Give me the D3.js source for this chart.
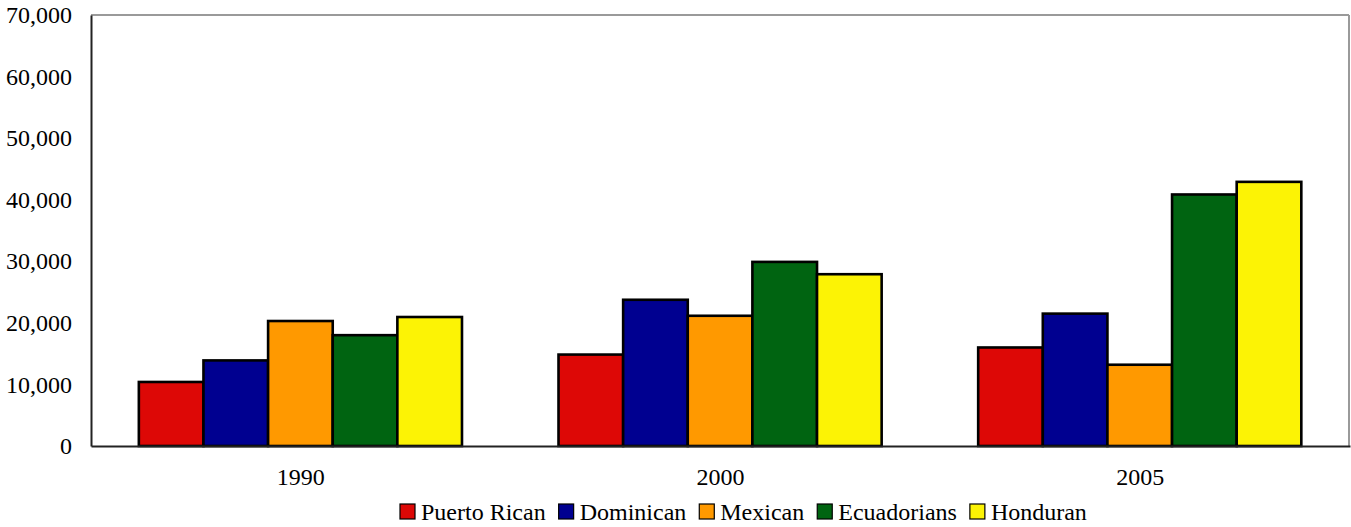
<!DOCTYPE html>
<html>
<head>
<meta charset="utf-8">
<script src="https://cdn.jsdelivr.net/npm/d3@7"></script>
<style>
  html, body { margin: 0; padding: 0; background: #fff; }
  svg { display: block; }
</style>
</head>
<body>
<svg id="chart" width="1351" height="527" style="font-family:'Liberation Serif'"></svg>
<script>
const years = ["1990", "2000", "2005"];
const groups = ["Puerto Rican", "Dominican", "Mexican", "Ecuadorians", "Honduran"];
const puertoRican = [10400, 14850, 16000];
const dominican   = [13900, 23750, 21500];
const mexican     = [20300, 21150, 13200];
const ecuadorians = [18000, 29900, 40850];
const honduran    = [20950, 27900, 42900];
const yTicks = [0, 10000, 20000, 30000, 40000, 50000, 60000, 70000];
const colors = ["#DD0806", "#000090", "#FF9900", "#006411", "#FCF305"];

const seriesValues = [puertoRican, dominican, mexican, ecuadorians, honduran];
const FONT = "'Liberation Serif'";
const FS = "24px";

const svg = d3.select("#chart");
const margin = { left: 91, right: 1, top: 15, bottom: 81 };
const W = 1351, H = 527;
const plotL = margin.left, plotR = W - margin.right, plotT = margin.top, plotB = H - margin.bottom;

const x0 = d3.scaleBand().domain(years).range([plotL, plotR]).padding(0);
const step = x0.bandwidth();
const x1 = d3.scaleBand().domain(groups).range([step * 0.114, step * 0.884]).padding(0);
const y = d3.scaleLinear().domain([0, 70000]).range([plotB, plotT]);

// frame: top and right grey
svg.append("line").attr("x1", plotL).attr("x2", plotR - 1).attr("y1", plotT).attr("y2", plotT)
  .attr("stroke", "#9a9a9a").attr("stroke-width", 2);
svg.append("line").attr("x1", plotR - 1).attr("x2", plotR - 1).attr("y1", plotT).attr("y2", plotB)
  .attr("stroke", "#9a9a9a").attr("stroke-width", 2);

// bars
const g = svg.append("g");
years.forEach((yr, i) => {
  groups.forEach((grp, j) => {
    const v = seriesValues[j][i];
    g.append("rect")
      .attr("x", x0(yr) + x1(grp))
      .attr("y", y(v))
      .attr("width", x1.bandwidth())
      .attr("height", y(0) - y(v))
      .attr("fill", colors[j])
      .attr("stroke", "#000")
      .attr("stroke-width", 2.6);
  });
});

// y axis
const yAxis = d3.axisLeft(y).tickValues(yTicks).tickSize(0).tickPadding(19)
  .tickFormat(d3.format(","));
const ya = svg.append("g").attr("transform", `translate(${plotL},0)`).call(yAxis);
ya.attr("font-family", null).attr("font-size", null);
ya.select(".domain").attr("stroke", "#222").attr("stroke-width", 2);
ya.selectAll("text").style("font-family", FONT).style("font-size", FS).attr("fill", "#000");

// x axis
const xAxis = d3.axisBottom(x0).tickSize(0).tickPadding(22);
const xa = svg.append("g").attr("transform", `translate(0,${plotB})`).call(xAxis);
xa.attr("font-family", null).attr("font-size", null);
xa.select(".domain").attr("stroke", "#222").attr("stroke-width", 2);
xa.selectAll("text").style("font-family", FONT).style("font-size", FS).attr("fill", "#000");

// legend
const legend = svg.append("g");
let lx = 400;
const ly = 512;
groups.forEach((grp, j) => {
  legend.append("rect").attr("x", lx).attr("y", ly - 8).attr("width", 15).attr("height", 15)
    .attr("fill", colors[j]).attr("stroke", "#000").attr("stroke-width", 1.2);
  const t = legend.append("text").attr("x", lx + 21).attr("y", ly + 8)
    .style("font-family", FONT).style("font-size", FS).attr("fill", "#000").text(grp);
  lx = lx + 21 + t.node().getComputedTextLength() + 13;
});
</script>
</body>
</html>
